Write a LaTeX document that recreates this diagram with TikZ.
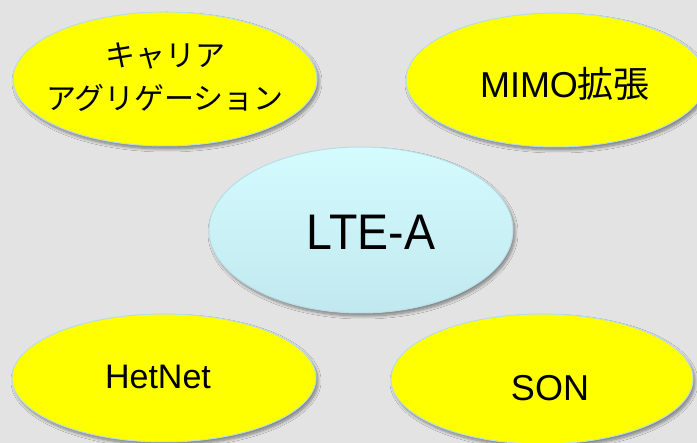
\documentclass[tikz,border=0pt]{standalone}
\usepackage{fontspec}
\setmainfont{Liberation Sans}
\newfontfamily\jpfont{Noto Sans CJK JP}
\usetikzlibrary{shapes.geometric,shadows.blur}

\definecolor{bgGray}{HTML}{E3E3E3}
\definecolor{bubbleYellow}{HTML}{FFFF00}
\definecolor{rimBlue}{HTML}{B8DDE6}
\definecolor{coreTop}{HTML}{D4FCFF}
\definecolor{coreBottom}{HTML}{C0E8EE}

\tikzset{
  bubble/.style={ellipse, draw=rimBlue, line width=1pt, inner sep=0pt,
    blur shadow={shadow xshift=2pt, shadow yshift=-3pt,
      shadow blur radius=3pt, shadow blur steps=10, shadow opacity=45}},
  topic/.style={bubble, fill=bubbleYellow},
  core/.style={bubble, top color=coreTop, bottom color=coreBottom},
  label/.style={text=black, align=center}
}

\begin{document}
\begin{tikzpicture}[x=1pt, y=-1pt]
  \fill[bgGray] (0,0) rectangle (697,443);
  \useasboundingbox (0,0) rectangle (697,443);

  % feature bubbles
  \node[topic, minimum width=304pt, minimum height=134pt] (ca)  at (165,79)  {};
  \node[topic, minimum width=300pt, minimum height=134pt] (mimo) at (556,80) {};
  \node[topic, minimum width=304pt, minimum height=128pt] (het) at (164,378) {};
  \node[topic, minimum width=302pt, minimum height=130pt] (son) at (542,379) {};

  % central bubble
  \node[core, minimum width=304pt, minimum height=166pt] (lte) at (361,230) {};

  % labels
  \node[label, font=\jpfont\fontsize{30}{43}\selectfont] (caText) at (165,77)
    {キャリア\\アグリゲーション};
  \node[label, font=\fontsize{36}{40}\selectfont] (mimoText) at (565,84)
    {MIMO{\jpfont 拡張}};
  \node[label, font=\fontsize{50}{56}\selectfont, xscale=0.93] (lteText) at (371,232) {LTE-A};
  \node[label, font=\fontsize{34}{40}\selectfont] (hetText) at (158,377) {HetNet};
  \node[label, font=\fontsize{36}{40}\selectfont] (sonText) at (550,388) {SON};
\end{tikzpicture}
\end{document}
